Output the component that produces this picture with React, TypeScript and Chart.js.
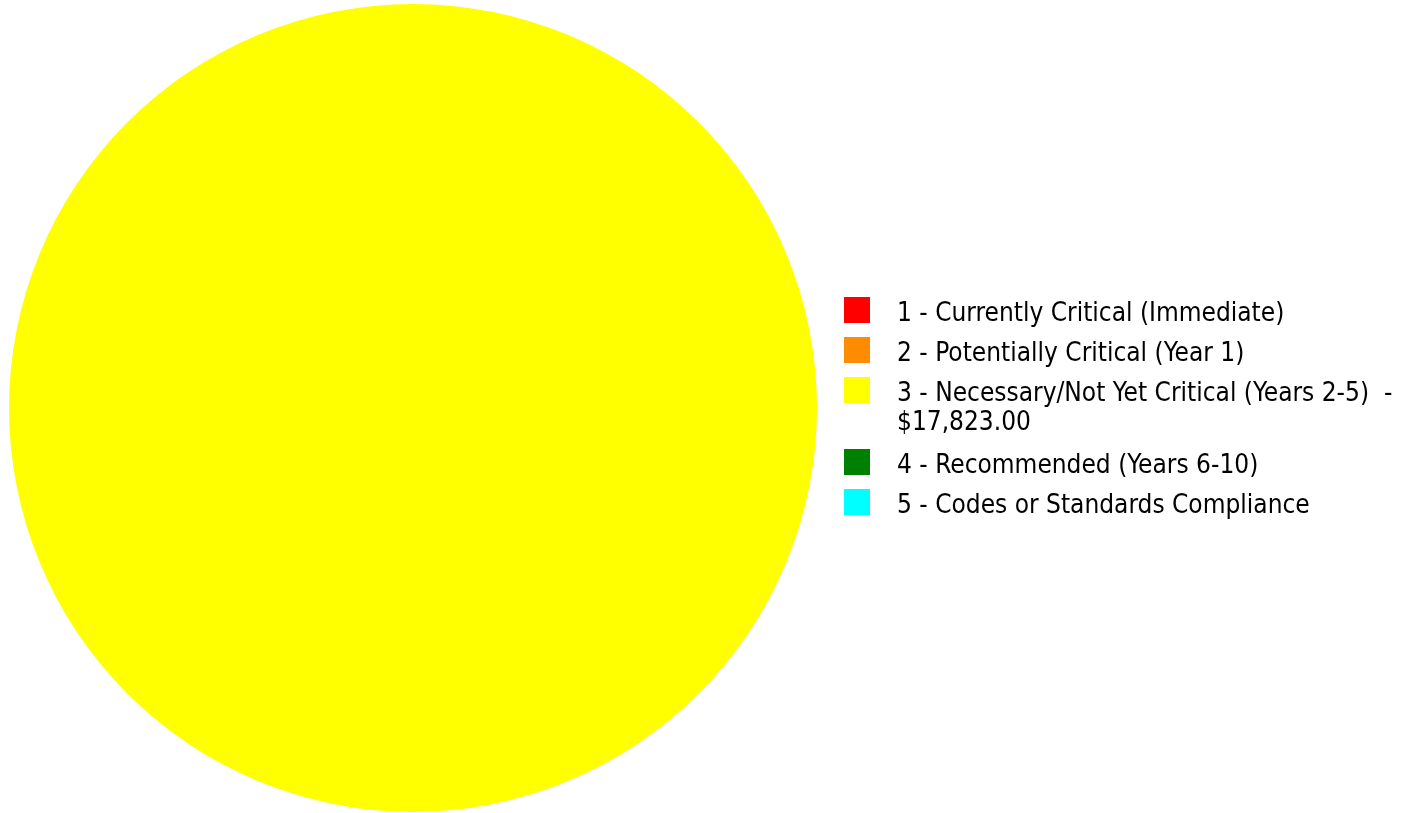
import React, { useEffect, useRef } from 'react';
import { Chart, registerables } from 'chart.js';

Chart.register(...registerables);

const categories = [
  '1 - Currently Critical (Immediate)',
  '2 - Potentially Critical (Year 1)',
  '3 - Necessary/Not Yet Critical (Years 2-5)',
  '4 - Recommended (Years 6-10)',
  '5 - Codes or Standards Compliance',
];
const costs = [0, 0, 17823, 0, 0];
const colors = ['#FF0000', '#FF8C00', '#FFFF00', '#008000', '#00FFFF'];

const W = 1425;
const H = 813;
const FONT_FAMILY = "'DejaVu Sans Condensed', 'DejaVu Sans', sans-serif";
const FONT_SIZE = 26;
const LINE_HEIGHT = 29;
const BOX = 26;
const LEG_PAD = 14;
const MARKER_W = 53; // legend marker slot width (box + gaps)
const MARKER_H = 34;
const BOX_OFFSET_X = 13;
const PAD_LEFT = 9;
const PIE_D = 808;

function buildLabels(): (string | string[])[] {
  return categories.map((c, i) =>
    costs[i] > 0
      ? [c + '  -', '$' + costs[i].toLocaleString('en-US', { minimumFractionDigits: 2, maximumFractionDigits: 2 })]
      : c
  );
}

function makeMarker(color: string): HTMLCanvasElement {
  const c = document.createElement('canvas');
  c.width = MARKER_W;
  c.height = MARKER_H;
  const g = c.getContext('2d')!;
  g.fillStyle = color;
  g.fillRect(BOX_OFFSET_X, 0, BOX, BOX);
  return c;
}

export default function App() {
  const ref = useRef<HTMLCanvasElement | null>(null);
  useEffect(() => {
    document.body.style.margin = '0';
    const canvas = ref.current!;
    const labels = buildLabels();
    const ctx = canvas.getContext('2d')!;
    ctx.font = `${FONT_SIZE}px ${FONT_FAMILY}`;
    let maxItem = 0;
    labels.forEach((l) => {
      const t = Array.isArray(l) ? l.reduce((a, b) => (a.length > b.length ? a : b)) : l;
      maxItem = Math.max(maxItem, MARKER_W + FONT_SIZE / 2 + ctx.measureText(t).width);
    });
    const legendWidth = LEG_PAD + maxItem + 10;
    const legendLeft = PAD_LEFT + PIE_D;
    const padRight = W - legendLeft - legendWidth;
    const markers = colors.map(makeMarker);

    const chart = new Chart(canvas, {
      type: 'pie',
      data: {
        labels: labels as any,
        datasets: [
          {
            data: costs,
            backgroundColor: colors,
            borderWidth: 0,
          },
        ],
      },
      options: {
        responsive: false,
        animation: false,
        layout: { padding: { left: PAD_LEFT, right: padRight, top: 4, bottom: 1 } },
        plugins: {
          tooltip: { enabled: false },
          legend: {
            position: 'right',
            align: 'center',
            title: { display: true, text: '', padding: 0, font: { size: 1, lineHeight: '4px' } },
            labels: {
              usePointStyle: true,
              pointStyleWidth: MARKER_W,
              boxHeight: BOX,
              padding: LEG_PAD,
              color: '#000',
              font: { family: FONT_FAMILY, size: FONT_SIZE, lineHeight: LINE_HEIGHT + 'px' },
              generateLabels: (ch: any) =>
                (ch.data.labels as any[]).map((text, i) => ({
                  text,
                  fillStyle: colors[i],
                  strokeStyle: colors[i],
                  lineWidth: 0,
                  fontColor: '#000',
                  pointStyle: markers[i],
                  hidden: !ch.getDataVisibility(i),
                  index: i,
                })),
            },
          },
        },
      },
    });
    return () => chart.destroy();
  }, []);
  return (
    <div style={{ position: 'absolute', left: 0, top: 0, width: W, height: H }}>
      <canvas ref={ref} width={W} height={H} style={{ display: 'block' }} />
    </div>
  );
}
